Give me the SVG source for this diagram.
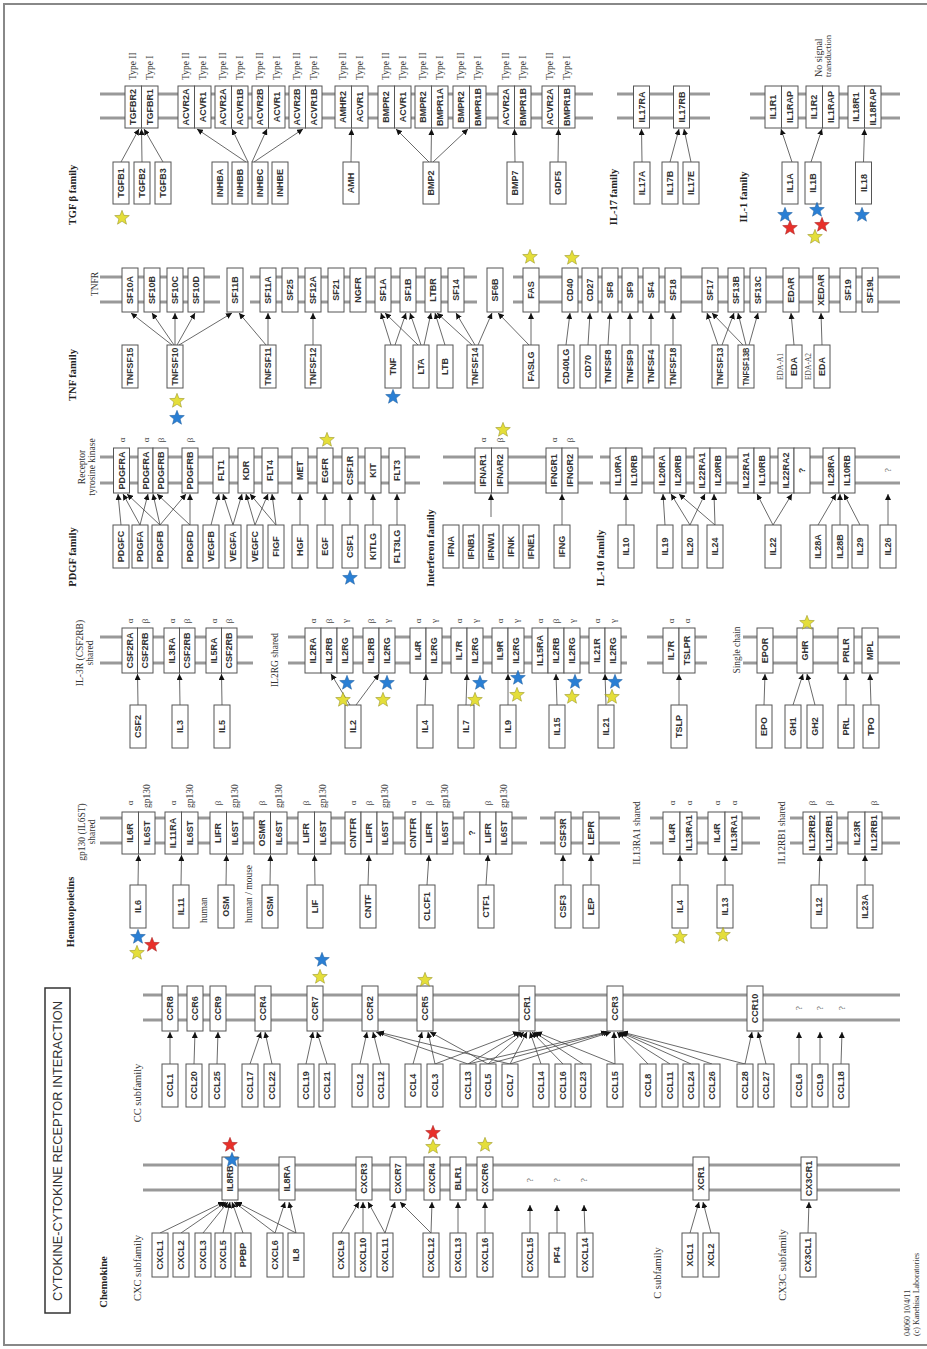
<svg xmlns="http://www.w3.org/2000/svg" xmlns:xlink="http://www.w3.org/1999/xlink" width="927" height="1349" viewBox="0 0 927 1349">
<defs>
<style>
.b{fill:#fff;stroke:#555;stroke-width:1}
.g{font-family:"Liberation Sans",Arial,sans-serif;font-size:9px;font-weight:bold;text-anchor:middle;dominant-baseline:central;fill:#333}
.m{stroke:#999;stroke-width:3;fill:none}
.c line{stroke:#444;stroke-width:0.8;marker-end:url(#ah)}
.f{font-family:"Liberation Serif","Times New Roman",serif;font-size:10.5px;font-weight:bold;text-anchor:middle;dominant-baseline:central;fill:#222}
.s{font-family:"Liberation Serif","Times New Roman",serif;font-size:9.5px;fill:#333;dominant-baseline:central}
.q{font-family:"Liberation Serif","Times New Roman",serif;font-size:9px;fill:#444;text-anchor:middle;dominant-baseline:central}
.y{fill:#e4de3a;stroke:#8f8a1c;stroke-width:0.5}
.bl{fill:#2a7fd4;stroke:#1a5a9a;stroke-width:0.5}
.r{fill:#e8302a;stroke:#a02020;stroke-width:0.5}
</style>
<marker id="ah" markerUnits="userSpaceOnUse" markerWidth="6" markerHeight="6" viewBox="0 0 10 10" refX="10" refY="5" orient="auto"><path d="M0,0L10,5L0,10z" fill="#111"/></marker>
<path id="st" d="M0,-7.7 L1.94,-2.67 L7.33,-2.38 L3.14,1.02 L4.52,6.23 L0,3.3 L-4.52,6.23 L-3.14,1.02 L-7.33,-2.38 L-1.94,-2.67 Z"/>
</defs>
<rect width="927" height="1349" fill="#fff"/>
<path d="M927,4 H4 V1345 H927" fill="none" stroke="#888" stroke-width="2"/>

<g id="title">
<rect x="45" y="988" width="25" height="325" fill="#fff" stroke="#333" stroke-width="1.5"/>
<text class="g" style="font-size:12px;font-weight:normal" textLength="300" lengthAdjust="spacingAndGlyphs" transform="translate(57.5,1151) rotate(-90)">CYTOKINE-CYTOKINE RECEPTOR INTERACTION</text>
</g>

<g id="membranes" class="m">
<path d="M100,94H593M100,118H593M617,94H710M617,118H710M750,94H900M750,118H900"/>
<path d="M100,277H220M100,302H220M250,277H477M250,302H477M513,277H900M513,302H900"/>
<path d="M100,457H420M100,483H420M443,457H593M443,483H593M600,457H900M600,483H900"/>
<path d="M100,637H253M100,663H253M288,637H627M288,663H627M647,637H707M647,663H707M743,637H900M743,663H900"/>
<path d="M100,818H527M100,843H527M540,818H620M540,843H620M650,818H760M650,843H760M790,818H900M790,843H900"/>
<path d="M143,995H900M143,1020H900"/>
<path d="M143,1165H900M143,1190H900"/>
</g>

<g id="connectors" class="c">
<line x1="121" y1="162" x2="139" y2="129"/><line x1="142" y1="162" x2="141.5" y2="129"/><line x1="163" y1="162" x2="144" y2="129"/>
<line x1="246" y1="162" x2="197" y2="129"/><line x1="248" y1="162" x2="232" y2="129"/><line x1="252" y1="162" x2="267" y2="129"/><line x1="254" y1="162" x2="303" y2="129"/>
<line x1="351" y1="162" x2="351.5" y2="129"/>
<line x1="429" y1="162" x2="396" y2="129"/><line x1="431" y1="162" x2="431.5" y2="129"/><line x1="433" y1="162" x2="468" y2="129"/>
<line x1="515" y1="162" x2="514.5" y2="129"/><line x1="558" y1="162" x2="558.5" y2="129"/>
<line x1="642" y1="162" x2="641.5" y2="129"/><line x1="670" y1="162" x2="679" y2="129"/><line x1="691" y1="162" x2="684" y2="129"/>
<line x1="792" y1="162" x2="781" y2="129"/><line x1="811" y1="162" x2="822" y2="129"/><line x1="863.5" y1="162" x2="864.5" y2="129"/>

<line x1="172" y1="345" x2="131" y2="313"/><line x1="174" y1="345" x2="152" y2="313"/><line x1="175" y1="345" x2="175" y2="313"/><line x1="177" y1="345" x2="195" y2="313"/><line x1="179" y1="345" x2="232" y2="313"/>
<line x1="266" y1="345" x2="239" y2="313"/><line x1="268" y1="345" x2="268" y2="313"/>
<line x1="313" y1="345" x2="313" y2="313"/>
<line x1="391" y1="345" x2="381" y2="313"/><line x1="395" y1="345" x2="406" y2="313"/>
<line x1="418" y1="345" x2="385" y2="313"/><line x1="421" y1="345" x2="410" y2="313"/><line x1="424" y1="345" x2="431" y2="313"/>
<line x1="445" y1="345" x2="435" y2="313"/>
<line x1="472" y1="345" x2="437" y2="313"/><line x1="475" y1="345" x2="456" y2="313"/><line x1="478" y1="345" x2="492" y2="313"/>
<line x1="529" y1="345" x2="498" y2="313"/><line x1="531" y1="345" x2="531" y2="313"/>
<line x1="566" y1="345" x2="570" y2="313"/><line x1="588" y1="345" x2="590" y2="313"/><line x1="608" y1="345" x2="610" y2="313"/><line x1="630" y1="345" x2="630" y2="313"/><line x1="651" y1="345" x2="651" y2="313"/><line x1="673" y1="345" x2="673" y2="313"/>
<line x1="718" y1="345" x2="707" y2="313"/><line x1="722" y1="345" x2="734" y2="313"/>
<line x1="743" y1="345" x2="712" y2="313"/><line x1="746" y1="345" x2="738" y2="313"/><line x1="749" y1="345" x2="758" y2="313"/>
<line x1="794" y1="345" x2="791" y2="313"/><line x1="822" y1="345" x2="821" y2="313"/>

<line x1="121" y1="525" x2="118" y2="494"/><line x1="140" y1="525" x2="123" y2="494"/><line x1="140" y1="525" x2="148" y2="494"/>
<line x1="160" y1="525" x2="127" y2="494"/><line x1="160" y1="525" x2="153" y2="494"/><line x1="160" y1="525" x2="186" y2="494"/>
<line x1="190" y1="525" x2="157" y2="494"/><line x1="190" y1="525" x2="190" y2="494"/>
<line x1="211" y1="525" x2="219" y2="494"/><line x1="233" y1="525" x2="223" y2="494"/><line x1="233" y1="525" x2="242" y2="494"/>
<line x1="255" y1="525" x2="246" y2="494"/><line x1="255" y1="525" x2="268" y2="494"/><line x1="276" y1="525" x2="250" y2="494"/><line x1="276" y1="525" x2="272" y2="494"/>
<line x1="300" y1="525" x2="300" y2="494"/><line x1="325" y1="525" x2="325" y2="494"/><line x1="350" y1="525" x2="350" y2="494"/><line x1="373" y1="525" x2="373" y2="494"/><line x1="397" y1="525" x2="397" y2="494"/>
<line x1="491" y1="517" x2="491" y2="494"/><line x1="562" y1="525" x2="562" y2="494"/>
<line x1="626" y1="525" x2="626" y2="494"/><line x1="665" y1="525" x2="663" y2="494"/><line x1="690" y1="525" x2="671" y2="494"/><line x1="690" y1="525" x2="705" y2="494"/>
<line x1="715" y1="525" x2="679" y2="494"/><line x1="715" y1="525" x2="714" y2="494"/>
<line x1="773" y1="525" x2="757" y2="494"/><line x1="773" y1="525" x2="792" y2="494"/>
<line x1="818" y1="525" x2="836" y2="494"/><line x1="840" y1="525" x2="840" y2="494"/><line x1="860" y1="525" x2="844" y2="494"/><line x1="888" y1="525" x2="888" y2="494"/>

<line x1="138" y1="705" x2="137.5" y2="674"/><line x1="180" y1="705" x2="179.5" y2="674"/><line x1="222" y1="705" x2="221.5" y2="674"/>
<line x1="350" y1="705" x2="331" y2="674"/><line x1="356" y1="705" x2="379" y2="674"/>
<line x1="425" y1="705" x2="426" y2="674"/><line x1="466" y1="705" x2="467" y2="674"/><line x1="508" y1="705" x2="508" y2="674"/><line x1="557" y1="705" x2="556" y2="674"/><line x1="606" y1="705" x2="605" y2="674"/>
<line x1="679" y1="705" x2="679" y2="674"/><line x1="764" y1="705" x2="765" y2="674"/><line x1="793" y1="705" x2="803" y2="674"/><line x1="815" y1="705" x2="807" y2="674"/><line x1="846" y1="705" x2="846" y2="674"/><line x1="871" y1="705" x2="870" y2="674"/>

<line x1="138" y1="885" x2="138.5" y2="855"/><line x1="181" y1="885" x2="181.5" y2="855"/><line x1="226" y1="885" x2="226.5" y2="855"/><line x1="270" y1="885" x2="270.5" y2="855"/><line x1="315" y1="885" x2="314.5" y2="855"/>
<line x1="368" y1="885" x2="369" y2="855"/><line x1="427" y1="885" x2="429" y2="855"/><line x1="486" y1="885" x2="488" y2="855"/><line x1="563" y1="885" x2="563" y2="855"/><line x1="591" y1="885" x2="591" y2="855"/>
<line x1="680" y1="885" x2="680" y2="855"/><line x1="725" y1="885" x2="725" y2="855"/><line x1="819" y1="885" x2="820" y2="855"/><line x1="865" y1="885" x2="865" y2="855"/>

<line x1="170" y1="1064" x2="170" y2="1032"/><line x1="194" y1="1064" x2="195" y2="1032"/><line x1="217" y1="1064" x2="218" y2="1032"/>
<line x1="250" y1="1064" x2="261" y2="1032"/><line x1="272" y1="1064" x2="265" y2="1032"/>
<line x1="306" y1="1064" x2="313" y2="1032"/><line x1="327" y1="1064" x2="317" y2="1032"/>
<line x1="360" y1="1064" x2="367" y2="1032"/><line x1="381" y1="1064" x2="373" y2="1032"/>
<line x1="413" y1="1064" x2="422" y2="1032"/><line x1="435" y1="1064" x2="428" y2="1032"/><line x1="435" y1="1064" x2="519" y2="1032"/>
<line x1="468" y1="1064" x2="376" y2="1032"/><line x1="468" y1="1064" x2="521" y2="1032"/><line x1="468" y1="1064" x2="607" y2="1032"/>
<line x1="488" y1="1064" x2="430" y2="1032"/><line x1="488" y1="1064" x2="524" y2="1032"/><line x1="488" y1="1064" x2="609" y2="1032"/>
<line x1="510" y1="1064" x2="378" y2="1032"/><line x1="510" y1="1064" x2="527" y2="1032"/><line x1="510" y1="1064" x2="611" y2="1032"/>
<line x1="541" y1="1064" x2="530" y2="1032"/><line x1="563" y1="1064" x2="532" y2="1032"/><line x1="583" y1="1064" x2="534" y2="1032"/>
<line x1="615" y1="1064" x2="536" y2="1032"/><line x1="615" y1="1064" x2="614" y2="1032"/>
<line x1="648" y1="1064" x2="617" y2="1032"/><line x1="670" y1="1064" x2="619" y2="1032"/><line x1="691" y1="1064" x2="620" y2="1032"/><line x1="712" y1="1064" x2="621" y2="1032"/>
<line x1="745" y1="1064" x2="622" y2="1032"/><line x1="745" y1="1064" x2="752" y2="1032"/><line x1="766" y1="1064" x2="758" y2="1032"/>
<line x1="799" y1="1064" x2="799" y2="1032"/><line x1="820" y1="1064" x2="820" y2="1032"/><line x1="841" y1="1064" x2="842" y2="1032"/>

<line x1="160" y1="1233" x2="224" y2="1202"/><line x1="181" y1="1233" x2="226" y2="1202"/><line x1="203" y1="1233" x2="228" y2="1202"/><line x1="223" y1="1233" x2="230" y2="1202"/><line x1="243" y1="1233" x2="232" y2="1202"/>
<line x1="275" y1="1233" x2="234" y2="1202"/><line x1="275" y1="1233" x2="285" y2="1202"/><line x1="296" y1="1233" x2="236" y2="1202"/><line x1="296" y1="1233" x2="289" y2="1202"/>
<line x1="341" y1="1233" x2="359" y2="1202"/><line x1="363" y1="1233" x2="363" y2="1202"/><line x1="385" y1="1233" x2="368" y2="1202"/><line x1="385" y1="1233" x2="395" y2="1202"/>
<line x1="431" y1="1233" x2="400" y2="1202"/><line x1="431" y1="1233" x2="432" y2="1202"/><line x1="458" y1="1233" x2="458" y2="1202"/><line x1="485" y1="1233" x2="485" y2="1202"/>
<line x1="530" y1="1233" x2="530" y2="1205"/><line x1="557" y1="1233" x2="557" y2="1205"/><line x1="585" y1="1233" x2="584" y2="1205"/>
<line x1="690" y1="1233" x2="699" y2="1202"/><line x1="711" y1="1233" x2="703" y2="1202"/><line x1="808" y1="1233" x2="809" y2="1202"/>
</g>

<g id="nodes">
<g id="TGFBR2_TGFBR1"><rect class="b" x="125" y="86" width="16.5" height="42"/><rect class="b" x="141.5" y="86" width="16.5" height="42"/><text class="g" transform="translate(133.3,107) rotate(-90)">TGFBR2</text><text class="g" transform="translate(149.8,107) rotate(-90)">TGFBR1</text></g>
<g id="ACVR2A_ACVR1"><rect class="b" x="178" y="86" width="16.5" height="42"/><rect class="b" x="194.5" y="86" width="16.5" height="42"/><text class="g" transform="translate(186.3,107) rotate(-90)">ACVR2A</text><text class="g" transform="translate(202.8,107) rotate(-90)">ACVR1</text></g>
<g id="ACVR2A_ACVR1B"><rect class="b" x="215" y="86" width="16.5" height="42"/><rect class="b" x="231.5" y="86" width="16.5" height="42"/><text class="g" transform="translate(223.3,107) rotate(-90)">ACVR2A</text><text class="g" transform="translate(239.8,107) rotate(-90)">ACVR1B</text></g>
<g id="ACVR2B_ACVR1"><rect class="b" x="252" y="86" width="16.5" height="42"/><rect class="b" x="268.5" y="86" width="16.5" height="42"/><text class="g" transform="translate(260.3,107) rotate(-90)">ACVR2B</text><text class="g" transform="translate(276.8,107) rotate(-90)">ACVR1</text></g>
<g id="ACVR2B_ACVR1B"><rect class="b" x="289" y="86" width="16.5" height="42"/><rect class="b" x="305.5" y="86" width="16.5" height="42"/><text class="g" transform="translate(297.3,107) rotate(-90)">ACVR2B</text><text class="g" transform="translate(313.8,107) rotate(-90)">ACVR1B</text></g>
<g id="AMHR2_ACVR1"><rect class="b" x="335" y="86" width="16.5" height="42"/><rect class="b" x="351.5" y="86" width="16.5" height="42"/><text class="g" transform="translate(343.3,107) rotate(-90)">AMHR2</text><text class="g" transform="translate(359.8,107) rotate(-90)">ACVR1</text></g>
<g id="BMPR2_ACVR1"><rect class="b" x="378" y="86" width="16.5" height="42"/><rect class="b" x="394.5" y="86" width="16.5" height="42"/><text class="g" transform="translate(386.3,107) rotate(-90)">BMPR2</text><text class="g" transform="translate(402.8,107) rotate(-90)">ACVR1</text></g>
<g id="BMPR2_BMPR1A"><rect class="b" x="415" y="86" width="16.5" height="42"/><rect class="b" x="431.5" y="86" width="16.5" height="42"/><text class="g" transform="translate(423.3,107) rotate(-90)">BMPR2</text><text class="g" transform="translate(439.8,107) rotate(-90)">BMPR1A</text></g>
<g id="BMPR2_BMPR1B"><rect class="b" x="453" y="86" width="16.5" height="42"/><rect class="b" x="469.5" y="86" width="16.5" height="42"/><text class="g" transform="translate(461.3,107) rotate(-90)">BMPR2</text><text class="g" transform="translate(477.8,107) rotate(-90)">BMPR1B</text></g>
<g id="ACVR2A_BMPR1B"><rect class="b" x="498" y="86" width="16.5" height="42"/><rect class="b" x="514.5" y="86" width="16.5" height="42"/><text class="g" transform="translate(506.3,107) rotate(-90)">ACVR2A</text><text class="g" transform="translate(522.8,107) rotate(-90)">BMPR1B</text></g>
<g id="ACVR2A_BMPR1B_b"><rect class="b" x="542" y="86" width="16.5" height="42"/><rect class="b" x="558.5" y="86" width="16.5" height="42"/><text class="g" transform="translate(550.3,107) rotate(-90)">ACVR2A</text><text class="g" transform="translate(566.8,107) rotate(-90)">BMPR1B</text></g>
<g id="IL17RA"><rect class="b" x="633.5" y="86" width="16" height="42"/><text class="g" transform="translate(641.5,107) rotate(-90)">IL17RA</text></g>
<g id="IL17RB"><rect class="b" x="673.5" y="86" width="16" height="42"/><text class="g" transform="translate(681.5,107) rotate(-90)">IL17RB</text></g>
<g id="IL1R1_IL1RAP"><rect class="b" x="765" y="86" width="16.5" height="42"/><rect class="b" x="781.5" y="86" width="16.5" height="42"/><text class="g" transform="translate(773.3,107) rotate(-90)">IL1R1</text><text class="g" transform="translate(789.8,107) rotate(-90)">IL1RAP</text></g>
<g id="IL1R2_IL1RAP"><rect class="b" x="806" y="86" width="16.5" height="42"/><rect class="b" x="822.5" y="86" width="16.5" height="42"/><text class="g" transform="translate(814.3,107) rotate(-90)">IL1R2</text><text class="g" transform="translate(830.8,107) rotate(-90)">IL1RAP</text></g>
<g id="IL18R1_IL18RAP"><rect class="b" x="848" y="86" width="16.5" height="42"/><rect class="b" x="864.5" y="86" width="16.5" height="42"/><text class="g" transform="translate(856.3,107) rotate(-90)">IL18R1</text><text class="g" transform="translate(872.8,107) rotate(-90)">IL18RAP</text></g>
<g id="TGFB1"><rect class="b" x="113" y="162" width="16" height="42"/><text class="g" transform="translate(121,183) rotate(-90)">TGFB1</text></g>
<g id="TGFB2"><rect class="b" x="134" y="162" width="16" height="42"/><text class="g" transform="translate(142,183) rotate(-90)">TGFB2</text></g>
<g id="TGFB3"><rect class="b" x="155" y="162" width="16" height="42"/><text class="g" transform="translate(163,183) rotate(-90)">TGFB3</text></g>
<g id="INHBA"><rect class="b" x="212" y="162" width="16" height="42"/><text class="g" transform="translate(220,183) rotate(-90)">INHBA</text></g>
<g id="INHBB"><rect class="b" x="232" y="162" width="16" height="42"/><text class="g" transform="translate(240,183) rotate(-90)">INHBB</text></g>
<g id="INHBC"><rect class="b" x="252" y="162" width="16" height="42"/><text class="g" transform="translate(260,183) rotate(-90)">INHBC</text></g>
<g id="INHBE"><rect class="b" x="272" y="162" width="16" height="42"/><text class="g" transform="translate(280,183) rotate(-90)">INHBE</text></g>
<g id="AMH"><rect class="b" x="343" y="162" width="16" height="42"/><text class="g" transform="translate(351,183) rotate(-90)">AMH</text></g>
<g id="BMP2"><rect class="b" x="423" y="162" width="16" height="42"/><text class="g" transform="translate(431,183) rotate(-90)">BMP2</text></g>
<g id="BMP7"><rect class="b" x="507" y="162" width="16" height="42"/><text class="g" transform="translate(515,183) rotate(-90)">BMP7</text></g>
<g id="GDF5"><rect class="b" x="550" y="162" width="16" height="42"/><text class="g" transform="translate(558,183) rotate(-90)">GDF5</text></g>
<g id="IL17A"><rect class="b" x="634" y="162" width="16" height="42"/><text class="g" transform="translate(642,183) rotate(-90)">IL17A</text></g>
<g id="IL17B"><rect class="b" x="662" y="162" width="16" height="42"/><text class="g" transform="translate(670,183) rotate(-90)">IL17B</text></g>
<g id="IL17E"><rect class="b" x="683" y="162" width="16" height="42"/><text class="g" transform="translate(691,183) rotate(-90)">IL17E</text></g>
<g id="IL1A"><rect class="b" x="782" y="162" width="16" height="42"/><text class="g" transform="translate(790,183) rotate(-90)">IL1A</text></g>
<g id="IL1B"><rect class="b" x="805" y="162" width="16" height="42"/><text class="g" transform="translate(813,183) rotate(-90)">IL1B</text></g>
<g id="IL18"><rect class="b" x="855.5" y="162" width="16" height="42"/><text class="g" transform="translate(863.5,183) rotate(-90)">IL18</text></g>

<g id="SF10A"><rect class="b" x="122" y="268" width="16" height="44"/><text class="g" transform="translate(130,290) rotate(-90)">SF10A</text></g>
<g id="SF10B"><rect class="b" x="144" y="268" width="16" height="44"/><text class="g" transform="translate(152,290) rotate(-90)">SF10B</text></g>
<g id="SF10C"><rect class="b" x="167" y="268" width="16" height="44"/><text class="g" transform="translate(175,290) rotate(-90)">SF10C</text></g>
<g id="SF10D"><rect class="b" x="188" y="268" width="16" height="44"/><text class="g" transform="translate(196,290) rotate(-90)">SF10D</text></g>
<g id="SF11B"><rect class="b" x="227" y="268" width="16" height="44"/><text class="g" transform="translate(235,290) rotate(-90)">SF11B</text></g>
<g id="SF11A"><rect class="b" x="260" y="268" width="16" height="44"/><text class="g" transform="translate(268,290) rotate(-90)">SF11A</text></g>
<g id="SF25"><rect class="b" x="282" y="268" width="16" height="44"/><text class="g" transform="translate(290,290) rotate(-90)">SF25</text></g>
<g id="SF12A"><rect class="b" x="305" y="268" width="16" height="44"/><text class="g" transform="translate(313,290) rotate(-90)">SF12A</text></g>
<g id="SF21"><rect class="b" x="328" y="268" width="16" height="44"/><text class="g" transform="translate(336,290) rotate(-90)">SF21</text></g>
<g id="NGFR"><rect class="b" x="350" y="268" width="16" height="44"/><text class="g" transform="translate(358,290) rotate(-90)">NGFR</text></g>
<g id="SF1A"><rect class="b" x="375" y="268" width="16" height="44"/><text class="g" transform="translate(383,290) rotate(-90)">SF1A</text></g>
<g id="SF1B"><rect class="b" x="400" y="268" width="16" height="44"/><text class="g" transform="translate(408,290) rotate(-90)">SF1B</text></g>
<g id="LTBR"><rect class="b" x="425" y="268" width="16" height="44"/><text class="g" transform="translate(433,290) rotate(-90)">LTBR</text></g>
<g id="SF14"><rect class="b" x="448" y="268" width="16" height="44"/><text class="g" transform="translate(456,290) rotate(-90)">SF14</text></g>
<g id="SF6B"><rect class="b" x="487" y="268" width="16" height="44"/><text class="g" transform="translate(495,290) rotate(-90)">SF6B</text></g>
<g id="FAS"><rect class="b" x="523" y="268" width="16" height="44"/><text class="g" transform="translate(531,290) rotate(-90)">FAS</text></g>
<g id="CD40"><rect class="b" x="562" y="268" width="16" height="44"/><text class="g" transform="translate(570,290) rotate(-90)">CD40</text></g>
<g id="CD27"><rect class="b" x="582" y="268" width="16" height="44"/><text class="g" transform="translate(590,290) rotate(-90)">CD27</text></g>
<g id="SF8"><rect class="b" x="602" y="268" width="16" height="44"/><text class="g" transform="translate(610,290) rotate(-90)">SF8</text></g>
<g id="SF9"><rect class="b" x="622" y="268" width="16" height="44"/><text class="g" transform="translate(630,290) rotate(-90)">SF9</text></g>
<g id="SF4"><rect class="b" x="643" y="268" width="16" height="44"/><text class="g" transform="translate(651,290) rotate(-90)">SF4</text></g>
<g id="SF18"><rect class="b" x="665" y="268" width="16" height="44"/><text class="g" transform="translate(673,290) rotate(-90)">SF18</text></g>
<g id="SF17"><rect class="b" x="702" y="268" width="16" height="44"/><text class="g" transform="translate(710,290) rotate(-90)">SF17</text></g>
<g id="SF13B"><rect class="b" x="728" y="268" width="16" height="44"/><text class="g" transform="translate(736,290) rotate(-90)">SF13B</text></g>
<g id="SF13C"><rect class="b" x="750" y="268" width="16" height="44"/><text class="g" transform="translate(758,290) rotate(-90)">SF13C</text></g>
<g id="EDAR"><rect class="b" x="783" y="268" width="16" height="44"/><text class="g" transform="translate(791,290) rotate(-90)">EDAR</text></g>
<g id="XEDAR"><rect class="b" x="813" y="268" width="16" height="44"/><text class="g" transform="translate(821,290) rotate(-90)">XEDAR</text></g>
<g id="SF19"><rect class="b" x="840" y="268" width="16" height="44"/><text class="g" transform="translate(848,290) rotate(-90)">SF19</text></g>
<g id="SF19L"><rect class="b" x="862" y="268" width="16" height="44"/><text class="g" transform="translate(870,290) rotate(-90)">SF19L</text></g>
<g id="TNFSF15"><rect class="b" x="122" y="345" width="16" height="43"/><text class="g" textLength="38" lengthAdjust="spacingAndGlyphs" transform="translate(130,366.5) rotate(-90)">TNFSF15</text></g>
<g id="TNFSF10"><rect class="b" x="167" y="345" width="16" height="43"/><text class="g" textLength="38" lengthAdjust="spacingAndGlyphs" transform="translate(175,366.5) rotate(-90)">TNFSF10</text></g>
<g id="TNFSF11"><rect class="b" x="260" y="345" width="16" height="43"/><text class="g" textLength="38" lengthAdjust="spacingAndGlyphs" transform="translate(268,366.5) rotate(-90)">TNFSF11</text></g>
<g id="TNFSF12"><rect class="b" x="305" y="345" width="16" height="43"/><text class="g" textLength="38" lengthAdjust="spacingAndGlyphs" transform="translate(313,366.5) rotate(-90)">TNFSF12</text></g>
<g id="TNF"><rect class="b" x="385" y="345" width="16" height="43"/><text class="g" transform="translate(393,366.5) rotate(-90)">TNF</text></g>
<g id="LTA"><rect class="b" x="413" y="345" width="16" height="43"/><text class="g" transform="translate(421,366.5) rotate(-90)">LTA</text></g>
<g id="LTB"><rect class="b" x="437" y="345" width="16" height="43"/><text class="g" transform="translate(445,366.5) rotate(-90)">LTB</text></g>
<g id="TNFSF14"><rect class="b" x="467" y="345" width="16" height="43"/><text class="g" textLength="38" lengthAdjust="spacingAndGlyphs" transform="translate(475,366.5) rotate(-90)">TNFSF14</text></g>
<g id="FASLG"><rect class="b" x="523" y="345" width="16" height="43"/><text class="g" transform="translate(531,366.5) rotate(-90)">FASLG</text></g>
<g id="CD40LG"><rect class="b" x="558" y="345" width="16" height="43"/><text class="g" transform="translate(566,366.5) rotate(-90)">CD40LG</text></g>
<g id="CD70"><rect class="b" x="580" y="345" width="16" height="43"/><text class="g" transform="translate(588,366.5) rotate(-90)">CD70</text></g>
<g id="TNFSF8"><rect class="b" x="600" y="345" width="16" height="43"/><text class="g" transform="translate(608,366.5) rotate(-90)">TNFSF8</text></g>
<g id="TNFSF9"><rect class="b" x="622" y="345" width="16" height="43"/><text class="g" transform="translate(630,366.5) rotate(-90)">TNFSF9</text></g>
<g id="TNFSF4"><rect class="b" x="643" y="345" width="16" height="43"/><text class="g" transform="translate(651,366.5) rotate(-90)">TNFSF4</text></g>
<g id="TNFSF18"><rect class="b" x="665" y="345" width="16" height="43"/><text class="g" textLength="38" lengthAdjust="spacingAndGlyphs" transform="translate(673,366.5) rotate(-90)">TNFSF18</text></g>
<g id="TNFSF13"><rect class="b" x="712" y="345" width="16" height="43"/><text class="g" textLength="38" lengthAdjust="spacingAndGlyphs" transform="translate(720,366.5) rotate(-90)">TNFSF13</text></g>
<g id="TNFSF13B"><rect class="b" x="738" y="345" width="16" height="43"/><text class="g" textLength="38" lengthAdjust="spacingAndGlyphs" transform="translate(746,366.5) rotate(-90)">TNFSF13B</text></g>
<g id="EDA_A1"><rect class="b" x="786" y="345" width="16" height="43"/><text class="g" transform="translate(794,366.5) rotate(-90)">EDA</text><text class="q" style="font-size:7.5px" transform="translate(780,366.5) rotate(-90)">EDA-A1</text></g>
<g id="EDA_A2"><rect class="b" x="814" y="345" width="16" height="43"/><text class="g" transform="translate(822,366.5) rotate(-90)">EDA</text><text class="q" style="font-size:7.5px" transform="translate(808.5,366.5) rotate(-90)">EDA-A2</text></g>

<g id="PDGFRA"><rect class="b" x="113.5" y="448" width="16" height="45"/><text class="g" transform="translate(121.5,470.5) rotate(-90)">PDGFRA</text></g>
<g id="PDGFRA_PDGFRB"><rect class="b" x="138" y="448" width="15" height="45"/><rect class="b" x="153" y="448" width="15" height="45"/><text class="g" transform="translate(145.5,470.5) rotate(-90)">PDGFRA</text><text class="g" transform="translate(160.5,470.5) rotate(-90)">PDGFRB</text></g>
<g id="PDGFRB"><rect class="b" x="182" y="448" width="16" height="45"/><text class="g" transform="translate(190,470.5) rotate(-90)">PDGFRB</text></g>
<g id="FLT1"><rect class="b" x="213" y="448" width="16" height="45"/><text class="g" transform="translate(221,470.5) rotate(-90)">FLT1</text></g>
<g id="KDR"><rect class="b" x="238" y="448" width="16" height="45"/><text class="g" transform="translate(246,470.5) rotate(-90)">KDR</text></g>
<g id="FLT4"><rect class="b" x="262" y="448" width="16" height="45"/><text class="g" transform="translate(270,470.5) rotate(-90)">FLT4</text></g>
<g id="MET"><rect class="b" x="292" y="448" width="16" height="45"/><text class="g" transform="translate(300,470.5) rotate(-90)">MET</text></g>
<g id="EGFR"><rect class="b" x="317" y="448" width="16" height="45"/><text class="g" transform="translate(325,470.5) rotate(-90)">EGFR</text></g>
<g id="CSF1R"><rect class="b" x="342" y="448" width="16" height="45"/><text class="g" transform="translate(350,470.5) rotate(-90)">CSF1R</text></g>
<g id="KIT"><rect class="b" x="365" y="448" width="16" height="45"/><text class="g" transform="translate(373,470.5) rotate(-90)">KIT</text></g>
<g id="FLT3"><rect class="b" x="389" y="448" width="16" height="45"/><text class="g" transform="translate(397,470.5) rotate(-90)">FLT3</text></g>
<g id="IFNAR1_IFNAR2"><rect class="b" x="475" y="448" width="16.5" height="45"/><rect class="b" x="491.5" y="448" width="16.5" height="45"/><text class="g" transform="translate(483.3,470.5) rotate(-90)">IFNAR1</text><text class="g" transform="translate(499.8,470.5) rotate(-90)">IFNAR2</text></g>
<g id="IFNGR1_IFNGR2"><rect class="b" x="546" y="448" width="16" height="45"/><rect class="b" x="562" y="448" width="16" height="45"/><text class="g" transform="translate(554,470.5) rotate(-90)">IFNGR1</text><text class="g" transform="translate(570,470.5) rotate(-90)">IFNGR2</text></g>
<g id="IL10RA_IL10RB"><rect class="b" x="610" y="448" width="16" height="45"/><rect class="b" x="626" y="448" width="16" height="45"/><text class="g" transform="translate(618,470.5) rotate(-90)">IL10RA</text><text class="g" transform="translate(634,470.5) rotate(-90)">IL10RB</text></g>
<g id="IL20RA_IL20RB"><rect class="b" x="654" y="448" width="16" height="45"/><rect class="b" x="670" y="448" width="16" height="45"/><text class="g" transform="translate(662,470.5) rotate(-90)">IL20RA</text><text class="g" transform="translate(678,470.5) rotate(-90)">IL20RB</text></g>
<g id="IL22RA1_IL20RB"><rect class="b" x="694" y="448" width="16" height="45"/><rect class="b" x="710" y="448" width="16" height="45"/><text class="g" transform="translate(702,470.5) rotate(-90)">IL22RA1</text><text class="g" transform="translate(718,470.5) rotate(-90)">IL20RB</text></g>
<g id="IL22RA1_IL10RB"><rect class="b" x="738" y="448" width="16" height="45"/><rect class="b" x="754" y="448" width="16" height="45"/><text class="g" transform="translate(746,470.5) rotate(-90)">IL22RA1</text><text class="g" transform="translate(762,470.5) rotate(-90)">IL10RB</text></g>
<g id="IL22RA2"><rect class="b" x="778" y="448" width="16" height="45"/><rect class="b" x="794" y="448" width="16" height="45"/><text class="g" transform="translate(786,470.5) rotate(-90)">IL22RA2</text><text class="g" transform="translate(802,470.5) rotate(-90)">?</text></g>
<g id="IL28RA_IL10RB"><rect class="b" x="823" y="448" width="16" height="45"/><rect class="b" x="839" y="448" width="16" height="45"/><text class="g" transform="translate(831,470.5) rotate(-90)">IL28RA</text><text class="g" transform="translate(847,470.5) rotate(-90)">IL10RB</text></g>
<g id="PDGFC"><rect class="b" x="113" y="525" width="16" height="43"/><text class="g" transform="translate(121,546.5) rotate(-90)">PDGFC</text></g>
<g id="PDGFA"><rect class="b" x="132" y="525" width="16" height="43"/><text class="g" transform="translate(140,546.5) rotate(-90)">PDGFA</text></g>
<g id="PDGFB"><rect class="b" x="152" y="525" width="16" height="43"/><text class="g" transform="translate(160,546.5) rotate(-90)">PDGFB</text></g>
<g id="PDGFD"><rect class="b" x="182" y="525" width="16" height="43"/><text class="g" transform="translate(190,546.5) rotate(-90)">PDGFD</text></g>
<g id="VEGFB"><rect class="b" x="203" y="525" width="16" height="43"/><text class="g" transform="translate(211,546.5) rotate(-90)">VEGFB</text></g>
<g id="VEGFA"><rect class="b" x="225" y="525" width="16" height="43"/><text class="g" transform="translate(233,546.5) rotate(-90)">VEGFA</text></g>
<g id="VEGFC"><rect class="b" x="247" y="525" width="16" height="43"/><text class="g" transform="translate(255,546.5) rotate(-90)">VEGFC</text></g>
<g id="FIGF"><rect class="b" x="268" y="525" width="16" height="43"/><text class="g" transform="translate(276,546.5) rotate(-90)">FIGF</text></g>
<g id="HGF"><rect class="b" x="292" y="525" width="16" height="43"/><text class="g" transform="translate(300,546.5) rotate(-90)">HGF</text></g>
<g id="EGF"><rect class="b" x="317" y="525" width="16" height="43"/><text class="g" transform="translate(325,546.5) rotate(-90)">EGF</text></g>
<g id="CSF1"><rect class="b" x="342" y="525" width="16" height="43"/><text class="g" transform="translate(350,546.5) rotate(-90)">CSF1</text></g>
<g id="KITLG"><rect class="b" x="365" y="525" width="16" height="43"/><text class="g" transform="translate(373,546.5) rotate(-90)">KITLG</text></g>
<g id="FLT3LG"><rect class="b" x="389" y="525" width="16" height="43"/><text class="g" transform="translate(397,546.5) rotate(-90)">FLT3LG</text></g>
<g id="IFNA"><rect class="b" x="443" y="525" width="16" height="43"/><text class="g" transform="translate(451,546.5) rotate(-90)">IFNA</text></g>
<g id="IFNB1"><rect class="b" x="463" y="525" width="16" height="43"/><text class="g" transform="translate(471,546.5) rotate(-90)">IFNB1</text></g>
<g id="IFNW1"><rect class="b" x="483" y="525" width="16" height="43"/><text class="g" transform="translate(491,546.5) rotate(-90)">IFNW1</text></g>
<g id="IFNK"><rect class="b" x="503" y="525" width="16" height="43"/><text class="g" transform="translate(511,546.5) rotate(-90)">IFNK</text></g>
<g id="IFNE1"><rect class="b" x="523" y="525" width="16" height="43"/><text class="g" transform="translate(531,546.5) rotate(-90)">IFNE1</text></g>
<g id="IFNG"><rect class="b" x="554" y="525" width="16" height="43"/><text class="g" transform="translate(562,546.5) rotate(-90)">IFNG</text></g>
<g id="IL10"><rect class="b" x="618" y="525" width="16" height="43"/><text class="g" transform="translate(626,546.5) rotate(-90)">IL10</text></g>
<g id="IL19"><rect class="b" x="657" y="525" width="16" height="43"/><text class="g" transform="translate(665,546.5) rotate(-90)">IL19</text></g>
<g id="IL20"><rect class="b" x="682" y="525" width="16" height="43"/><text class="g" transform="translate(690,546.5) rotate(-90)">IL20</text></g>
<g id="IL24"><rect class="b" x="707" y="525" width="16" height="43"/><text class="g" transform="translate(715,546.5) rotate(-90)">IL24</text></g>
<g id="IL22"><rect class="b" x="765" y="525" width="16" height="43"/><text class="g" transform="translate(773,546.5) rotate(-90)">IL22</text></g>
<g id="IL28A"><rect class="b" x="810" y="525" width="16" height="43"/><text class="g" transform="translate(818,546.5) rotate(-90)">IL28A</text></g>
<g id="IL28B"><rect class="b" x="832" y="525" width="16" height="43"/><text class="g" transform="translate(840,546.5) rotate(-90)">IL28B</text></g>
<g id="IL29"><rect class="b" x="852" y="525" width="16" height="43"/><text class="g" transform="translate(860,546.5) rotate(-90)">IL29</text></g>
<g id="IL26"><rect class="b" x="880" y="525" width="16" height="43"/><text class="g" transform="translate(888,546.5) rotate(-90)">IL26</text></g>

<g id="CSF2RA_CSF2RB"><rect class="b" x="122" y="628" width="15.5" height="45"/><rect class="b" x="137.5" y="628" width="15.5" height="45"/><text class="g" transform="translate(129.8,650.5) rotate(-90)">CSF2RA</text><text class="g" transform="translate(145.3,650.5) rotate(-90)">CSF2RB</text></g>
<g id="IL3RA_CSF2RB"><rect class="b" x="164" y="628" width="15.5" height="45"/><rect class="b" x="179.5" y="628" width="15.5" height="45"/><text class="g" transform="translate(171.8,650.5) rotate(-90)">IL3RA</text><text class="g" transform="translate(187.3,650.5) rotate(-90)">CSF2RB</text></g>
<g id="IL5RA_CSF2RB"><rect class="b" x="206" y="628" width="15.5" height="45"/><rect class="b" x="221.5" y="628" width="15.5" height="45"/><text class="g" transform="translate(213.8,650.5) rotate(-90)">IL5RA</text><text class="g" transform="translate(229.3,650.5) rotate(-90)">CSF2RB</text></g>
<g id="IL2RA_IL2RB_IL2RG"><rect class="b" x="305" y="628" width="16" height="45"/><rect class="b" x="321" y="628" width="16" height="45"/><rect class="b" x="337" y="628" width="16" height="45"/><text class="g" transform="translate(313,650.5) rotate(-90)">IL2RA</text><text class="g" transform="translate(329,650.5) rotate(-90)">IL2RB</text><text class="g" transform="translate(345,650.5) rotate(-90)">IL2RG</text></g>
<g id="IL2RB_IL2RG"><rect class="b" x="363" y="628" width="16" height="45"/><rect class="b" x="379" y="628" width="16" height="45"/><text class="g" transform="translate(371,650.5) rotate(-90)">IL2RB</text><text class="g" transform="translate(387,650.5) rotate(-90)">IL2RG</text></g>
<g id="IL4R_IL2RG"><rect class="b" x="410" y="628" width="16" height="45"/><rect class="b" x="426" y="628" width="16" height="45"/><text class="g" transform="translate(418,650.5) rotate(-90)">IL4R</text><text class="g" transform="translate(434,650.5) rotate(-90)">IL2RG</text></g>
<g id="IL7R_IL2RG"><rect class="b" x="451" y="628" width="16" height="45"/><rect class="b" x="467" y="628" width="16" height="45"/><text class="g" transform="translate(459,650.5) rotate(-90)">IL7R</text><text class="g" transform="translate(475,650.5) rotate(-90)">IL2RG</text></g>
<g id="IL9R_IL2RG"><rect class="b" x="492" y="628" width="16" height="45"/><rect class="b" x="508" y="628" width="16" height="45"/><text class="g" transform="translate(500,650.5) rotate(-90)">IL9R</text><text class="g" transform="translate(516,650.5) rotate(-90)">IL2RG</text></g>
<g id="IL15RA_IL2RB_IL2RG"><rect class="b" x="532" y="628" width="16" height="45"/><rect class="b" x="548" y="628" width="16" height="45"/><rect class="b" x="564" y="628" width="16" height="45"/><text class="g" transform="translate(540,650.5) rotate(-90)">IL15RA</text><text class="g" transform="translate(556,650.5) rotate(-90)">IL2RB</text><text class="g" transform="translate(572,650.5) rotate(-90)">IL2RG</text></g>
<g id="IL21R_IL2RG"><rect class="b" x="589" y="628" width="16" height="45"/><rect class="b" x="605" y="628" width="16" height="45"/><text class="g" transform="translate(597,650.5) rotate(-90)">IL21R</text><text class="g" transform="translate(613,650.5) rotate(-90)">IL2RG</text></g>
<g id="IL7R_TSLPR"><rect class="b" x="663" y="628" width="16" height="45"/><rect class="b" x="679" y="628" width="16" height="45"/><text class="g" transform="translate(671,650.5) rotate(-90)">IL7R</text><text class="g" transform="translate(687,650.5) rotate(-90)">TSLPR</text></g>
<g id="EPOR"><rect class="b" x="757" y="628" width="16" height="45"/><text class="g" transform="translate(765,650.5) rotate(-90)">EPOR</text></g>
<g id="GHR"><rect class="b" x="797" y="628" width="16" height="45"/><text class="g" transform="translate(805,650.5) rotate(-90)">GHR</text></g>
<g id="PRLR"><rect class="b" x="838" y="628" width="16" height="45"/><text class="g" transform="translate(846,650.5) rotate(-90)">PRLR</text></g>
<g id="MPL"><rect class="b" x="862" y="628" width="16" height="45"/><text class="g" transform="translate(870,650.5) rotate(-90)">MPL</text></g>
<g id="CSF2"><rect class="b" x="130" y="705" width="16" height="43"/><text class="g" transform="translate(138,726.5) rotate(-90)">CSF2</text></g>
<g id="IL3"><rect class="b" x="172" y="705" width="16" height="43"/><text class="g" transform="translate(180,726.5) rotate(-90)">IL3</text></g>
<g id="IL5"><rect class="b" x="214" y="705" width="16" height="43"/><text class="g" transform="translate(222,726.5) rotate(-90)">IL5</text></g>
<g id="IL2"><rect class="b" x="345" y="705" width="16" height="43"/><text class="g" transform="translate(353,726.5) rotate(-90)">IL2</text></g>
<g id="IL4a"><rect class="b" x="417" y="705" width="16" height="43"/><text class="g" transform="translate(425,726.5) rotate(-90)">IL4</text></g>
<g id="IL7"><rect class="b" x="458" y="705" width="16" height="43"/><text class="g" transform="translate(466,726.5) rotate(-90)">IL7</text></g>
<g id="IL9"><rect class="b" x="500" y="705" width="16" height="43"/><text class="g" transform="translate(508,726.5) rotate(-90)">IL9</text></g>
<g id="IL15"><rect class="b" x="549" y="705" width="16" height="43"/><text class="g" transform="translate(557,726.5) rotate(-90)">IL15</text></g>
<g id="IL21"><rect class="b" x="598" y="705" width="16" height="43"/><text class="g" transform="translate(606,726.5) rotate(-90)">IL21</text></g>
<g id="TSLP"><rect class="b" x="671" y="705" width="16" height="43"/><text class="g" transform="translate(679,726.5) rotate(-90)">TSLP</text></g>
<g id="EPO"><rect class="b" x="756" y="705" width="16" height="43"/><text class="g" transform="translate(764,726.5) rotate(-90)">EPO</text></g>
<g id="GH1"><rect class="b" x="785" y="705" width="16" height="43"/><text class="g" transform="translate(793,726.5) rotate(-90)">GH1</text></g>
<g id="GH2"><rect class="b" x="807" y="705" width="16" height="43"/><text class="g" transform="translate(815,726.5) rotate(-90)">GH2</text></g>
<g id="PRL"><rect class="b" x="838" y="705" width="16" height="43"/><text class="g" transform="translate(846,726.5) rotate(-90)">PRL</text></g>
<g id="TPO"><rect class="b" x="863" y="705" width="16" height="43"/><text class="g" transform="translate(871,726.5) rotate(-90)">TPO</text></g>

<g id="IL6R_IL6ST"><rect class="b" x="122" y="812" width="16.5" height="42"/><rect class="b" x="138.5" y="812" width="16.5" height="42"/><text class="g" transform="translate(130.3,833) rotate(-90)">IL6R</text><text class="g" transform="translate(146.8,833) rotate(-90)">IL6ST</text></g>
<g id="IL11RA_IL6ST"><rect class="b" x="165" y="812" width="16.5" height="42"/><rect class="b" x="181.5" y="812" width="16.5" height="42"/><text class="g" transform="translate(173.3,833) rotate(-90)">IL11RA</text><text class="g" transform="translate(189.8,833) rotate(-90)">IL6ST</text></g>
<g id="LIFR_IL6ST_a"><rect class="b" x="210" y="812" width="16.5" height="42"/><rect class="b" x="226.5" y="812" width="16.5" height="42"/><text class="g" transform="translate(218.3,833) rotate(-90)">LIFR</text><text class="g" transform="translate(234.8,833) rotate(-90)">IL6ST</text></g>
<g id="OSMR_IL6ST"><rect class="b" x="254" y="812" width="16.5" height="42"/><rect class="b" x="270.5" y="812" width="16.5" height="42"/><text class="g" transform="translate(262.3,833) rotate(-90)">OSMR</text><text class="g" transform="translate(278.8,833) rotate(-90)">IL6ST</text></g>
<g id="LIFR_IL6ST_b"><rect class="b" x="298" y="812" width="16.5" height="42"/><rect class="b" x="314.5" y="812" width="16.5" height="42"/><text class="g" transform="translate(306.3,833) rotate(-90)">LIFR</text><text class="g" transform="translate(322.8,833) rotate(-90)">IL6ST</text></g>
<g id="CNTFR_LIFR_IL6ST_a"><rect class="b" x="345" y="812" width="16" height="42"/><rect class="b" x="361" y="812" width="16" height="42"/><rect class="b" x="377" y="812" width="16" height="42"/><text class="g" transform="translate(353,833) rotate(-90)">CNTFR</text><text class="g" transform="translate(369,833) rotate(-90)">LIFR</text><text class="g" transform="translate(385,833) rotate(-90)">IL6ST</text></g>
<g id="CNTFR_LIFR_IL6ST_b"><rect class="b" x="405" y="812" width="16" height="42"/><rect class="b" x="421" y="812" width="16" height="42"/><rect class="b" x="437" y="812" width="16" height="42"/><text class="g" transform="translate(413,833) rotate(-90)">CNTFR</text><text class="g" transform="translate(429,833) rotate(-90)">LIFR</text><text class="g" transform="translate(445,833) rotate(-90)">IL6ST</text></g>
<g id="Q_LIFR_IL6ST"><rect class="b" x="464" y="812" width="16" height="42"/><rect class="b" x="480" y="812" width="16" height="42"/><rect class="b" x="496" y="812" width="16" height="42"/><text class="g" transform="translate(472,833) rotate(-90)">?</text><text class="g" transform="translate(488,833) rotate(-90)">LIFR</text><text class="g" transform="translate(504,833) rotate(-90)">IL6ST</text></g>
<g id="CSF3R"><rect class="b" x="555" y="812" width="16" height="42"/><text class="g" transform="translate(563,833) rotate(-90)">CSF3R</text></g>
<g id="LEPR"><rect class="b" x="583" y="812" width="16" height="42"/><text class="g" transform="translate(591,833) rotate(-90)">LEPR</text></g>
<g id="IL4R_IL13RA1_a"><rect class="b" x="663" y="812" width="17" height="42"/><rect class="b" x="680" y="812" width="17" height="42"/><text class="g" transform="translate(671.5,833) rotate(-90)">IL4R</text><text class="g" transform="translate(688.5,833) rotate(-90)">IL13RA1</text></g>
<g id="IL4R_IL13RA1_b"><rect class="b" x="708" y="812" width="17" height="42"/><rect class="b" x="725" y="812" width="17" height="42"/><text class="g" transform="translate(716.5,833) rotate(-90)">IL4R</text><text class="g" transform="translate(733.5,833) rotate(-90)">IL13RA1</text></g>
<g id="IL12RB2_IL12RB1"><rect class="b" x="803" y="812" width="17" height="42"/><rect class="b" x="820" y="812" width="17" height="42"/><text class="g" transform="translate(811.5,833) rotate(-90)">IL12RB2</text><text class="g" transform="translate(828.5,833) rotate(-90)">IL12RB1</text></g>
<g id="IL23R_IL12RB1"><rect class="b" x="848" y="812" width="17" height="42"/><rect class="b" x="865" y="812" width="17" height="42"/><text class="g" transform="translate(856.5,833) rotate(-90)">IL23R</text><text class="g" transform="translate(873.5,833) rotate(-90)">IL12RB1</text></g>
<g id="IL6"><rect class="b" x="130" y="885" width="16" height="43"/><text class="g" transform="translate(138,906.5) rotate(-90)">IL6</text></g>
<g id="IL11"><rect class="b" x="173" y="885" width="16" height="43"/><text class="g" transform="translate(181,906.5) rotate(-90)">IL11</text></g>
<g id="OSM_a"><rect class="b" x="218" y="885" width="16" height="43"/><text class="g" transform="translate(226,906.5) rotate(-90)">OSM</text></g>
<g id="OSM_b"><rect class="b" x="262" y="885" width="16" height="43"/><text class="g" transform="translate(270,906.5) rotate(-90)">OSM</text></g>
<g id="LIF"><rect class="b" x="307" y="885" width="16" height="43"/><text class="g" transform="translate(315,906.5) rotate(-90)">LIF</text></g>
<g id="CNTF"><rect class="b" x="360" y="885" width="16" height="43"/><text class="g" transform="translate(368,906.5) rotate(-90)">CNTF</text></g>
<g id="CLCF1"><rect class="b" x="419" y="885" width="16" height="43"/><text class="g" transform="translate(427,906.5) rotate(-90)">CLCF1</text></g>
<g id="CTF1"><rect class="b" x="478" y="885" width="16" height="43"/><text class="g" transform="translate(486,906.5) rotate(-90)">CTF1</text></g>
<g id="CSF3"><rect class="b" x="555" y="885" width="16" height="43"/><text class="g" transform="translate(563,906.5) rotate(-90)">CSF3</text></g>
<g id="LEP"><rect class="b" x="583" y="885" width="16" height="43"/><text class="g" transform="translate(591,906.5) rotate(-90)">LEP</text></g>
<g id="IL4b"><rect class="b" x="672" y="885" width="16" height="43"/><text class="g" transform="translate(680,906.5) rotate(-90)">IL4</text></g>
<g id="IL13"><rect class="b" x="717" y="885" width="16" height="43"/><text class="g" transform="translate(725,906.5) rotate(-90)">IL13</text></g>
<g id="IL12"><rect class="b" x="811" y="885" width="16" height="43"/><text class="g" transform="translate(819,906.5) rotate(-90)">IL12</text></g>
<g id="IL23A"><rect class="b" x="857" y="885" width="16" height="43"/><text class="g" transform="translate(865,906.5) rotate(-90)">IL23A</text></g>

<g id="CCR8"><rect class="b" x="162" y="986" width="16" height="45"/><text class="g" transform="translate(170,1008.5) rotate(-90)">CCR8</text></g>
<g id="CCR6"><rect class="b" x="187" y="986" width="16" height="45"/><text class="g" transform="translate(195,1008.5) rotate(-90)">CCR6</text></g>
<g id="CCR9"><rect class="b" x="210" y="986" width="16" height="45"/><text class="g" transform="translate(218,1008.5) rotate(-90)">CCR9</text></g>
<g id="CCR4"><rect class="b" x="255" y="986" width="16" height="45"/><text class="g" transform="translate(263,1008.5) rotate(-90)">CCR4</text></g>
<g id="CCR7"><rect class="b" x="307" y="986" width="16" height="45"/><text class="g" transform="translate(315,1008.5) rotate(-90)">CCR7</text></g>
<g id="CCR2"><rect class="b" x="362" y="986" width="16" height="45"/><text class="g" transform="translate(370,1008.5) rotate(-90)">CCR2</text></g>
<g id="CCR5"><rect class="b" x="417" y="986" width="16" height="45"/><text class="g" transform="translate(425,1008.5) rotate(-90)">CCR5</text></g>
<g id="CCR1"><rect class="b" x="519" y="986" width="16" height="45"/><text class="g" transform="translate(527,1008.5) rotate(-90)">CCR1</text></g>
<g id="CCR3"><rect class="b" x="607" y="986" width="16" height="45"/><text class="g" transform="translate(615,1008.5) rotate(-90)">CCR3</text></g>
<g id="CCR10"><rect class="b" x="747" y="986" width="16" height="45"/><text class="g" transform="translate(755,1008.5) rotate(-90)">CCR10</text></g>
<g id="CCL1"><rect class="b" x="162" y="1064" width="16" height="43"/><text class="g" transform="translate(170,1085.5) rotate(-90)">CCL1</text></g>
<g id="CCL20"><rect class="b" x="186" y="1064" width="16" height="43"/><text class="g" transform="translate(194,1085.5) rotate(-90)">CCL20</text></g>
<g id="CCL25"><rect class="b" x="209" y="1064" width="16" height="43"/><text class="g" transform="translate(217,1085.5) rotate(-90)">CCL25</text></g>
<g id="CCL17"><rect class="b" x="242" y="1064" width="16" height="43"/><text class="g" transform="translate(250,1085.5) rotate(-90)">CCL17</text></g>
<g id="CCL22"><rect class="b" x="264" y="1064" width="16" height="43"/><text class="g" transform="translate(272,1085.5) rotate(-90)">CCL22</text></g>
<g id="CCL19"><rect class="b" x="298" y="1064" width="16" height="43"/><text class="g" transform="translate(306,1085.5) rotate(-90)">CCL19</text></g>
<g id="CCL21"><rect class="b" x="319" y="1064" width="16" height="43"/><text class="g" transform="translate(327,1085.5) rotate(-90)">CCL21</text></g>
<g id="CCL2"><rect class="b" x="352" y="1064" width="16" height="43"/><text class="g" transform="translate(360,1085.5) rotate(-90)">CCL2</text></g>
<g id="CCL12"><rect class="b" x="373" y="1064" width="16" height="43"/><text class="g" transform="translate(381,1085.5) rotate(-90)">CCL12</text></g>
<g id="CCL4"><rect class="b" x="405" y="1064" width="16" height="43"/><text class="g" transform="translate(413,1085.5) rotate(-90)">CCL4</text></g>
<g id="CCL3"><rect class="b" x="427" y="1064" width="16" height="43"/><text class="g" transform="translate(435,1085.5) rotate(-90)">CCL3</text></g>
<g id="CCL13"><rect class="b" x="460" y="1064" width="16" height="43"/><text class="g" transform="translate(468,1085.5) rotate(-90)">CCL13</text></g>
<g id="CCL5"><rect class="b" x="480" y="1064" width="16" height="43"/><text class="g" transform="translate(488,1085.5) rotate(-90)">CCL5</text></g>
<g id="CCL7"><rect class="b" x="502" y="1064" width="16" height="43"/><text class="g" transform="translate(510,1085.5) rotate(-90)">CCL7</text></g>
<g id="CCL14"><rect class="b" x="533" y="1064" width="16" height="43"/><text class="g" transform="translate(541,1085.5) rotate(-90)">CCL14</text></g>
<g id="CCL16"><rect class="b" x="555" y="1064" width="16" height="43"/><text class="g" transform="translate(563,1085.5) rotate(-90)">CCL16</text></g>
<g id="CCL23"><rect class="b" x="575" y="1064" width="16" height="43"/><text class="g" transform="translate(583,1085.5) rotate(-90)">CCL23</text></g>
<g id="CCL15"><rect class="b" x="607" y="1064" width="16" height="43"/><text class="g" transform="translate(615,1085.5) rotate(-90)">CCL15</text></g>
<g id="CCL8"><rect class="b" x="640" y="1064" width="16" height="43"/><text class="g" transform="translate(648,1085.5) rotate(-90)">CCL8</text></g>
<g id="CCL11"><rect class="b" x="662" y="1064" width="16" height="43"/><text class="g" transform="translate(670,1085.5) rotate(-90)">CCL11</text></g>
<g id="CCL24"><rect class="b" x="683" y="1064" width="16" height="43"/><text class="g" transform="translate(691,1085.5) rotate(-90)">CCL24</text></g>
<g id="CCL26"><rect class="b" x="704" y="1064" width="16" height="43"/><text class="g" transform="translate(712,1085.5) rotate(-90)">CCL26</text></g>
<g id="CCL28"><rect class="b" x="737" y="1064" width="16" height="43"/><text class="g" transform="translate(745,1085.5) rotate(-90)">CCL28</text></g>
<g id="CCL27"><rect class="b" x="758" y="1064" width="16" height="43"/><text class="g" transform="translate(766,1085.5) rotate(-90)">CCL27</text></g>
<g id="CCL6"><rect class="b" x="791" y="1064" width="16" height="43"/><text class="g" transform="translate(799,1085.5) rotate(-90)">CCL6</text></g>
<g id="CCL9"><rect class="b" x="812" y="1064" width="16" height="43"/><text class="g" transform="translate(820,1085.5) rotate(-90)">CCL9</text></g>
<g id="CCL18"><rect class="b" x="833" y="1064" width="16" height="43"/><text class="g" transform="translate(841,1085.5) rotate(-90)">CCL18</text></g>

<g id="IL8RB"><rect class="b" x="222" y="1157" width="16" height="43"/><text class="g" transform="translate(230,1178.5) rotate(-90)">IL8RB</text></g>
<g id="IL8RA"><rect class="b" x="279" y="1157" width="16" height="43"/><text class="g" transform="translate(287,1178.5) rotate(-90)">IL8RA</text></g>
<g id="CXCR3"><rect class="b" x="356" y="1157" width="16" height="43"/><text class="g" transform="translate(364,1178.5) rotate(-90)">CXCR3</text></g>
<g id="CXCR7"><rect class="b" x="390" y="1157" width="16" height="43"/><text class="g" transform="translate(398,1178.5) rotate(-90)">CXCR7</text></g>
<g id="CXCR4"><rect class="b" x="424" y="1157" width="16" height="43"/><text class="g" transform="translate(432,1178.5) rotate(-90)">CXCR4</text></g>
<g id="BLR1"><rect class="b" x="450" y="1157" width="16" height="43"/><text class="g" transform="translate(458,1178.5) rotate(-90)">BLR1</text></g>
<g id="CXCR6"><rect class="b" x="477" y="1157" width="16" height="43"/><text class="g" transform="translate(485,1178.5) rotate(-90)">CXCR6</text></g>
<g id="XCR1"><rect class="b" x="693" y="1157" width="16" height="43"/><text class="g" transform="translate(701,1178.5) rotate(-90)">XCR1</text></g>
<g id="CX3CR1"><rect class="b" x="801" y="1157" width="16" height="43"/><text class="g" transform="translate(809,1178.5) rotate(-90)">CX3CR1</text></g>
<g id="CXCL1"><rect class="b" x="152" y="1233" width="16" height="44"/><text class="g" transform="translate(160,1255) rotate(-90)">CXCL1</text></g>
<g id="CXCL2"><rect class="b" x="173" y="1233" width="16" height="44"/><text class="g" transform="translate(181,1255) rotate(-90)">CXCL2</text></g>
<g id="CXCL3"><rect class="b" x="195" y="1233" width="16" height="44"/><text class="g" transform="translate(203,1255) rotate(-90)">CXCL3</text></g>
<g id="CXCL5"><rect class="b" x="215" y="1233" width="16" height="44"/><text class="g" transform="translate(223,1255) rotate(-90)">CXCL5</text></g>
<g id="PPBP"><rect class="b" x="235" y="1233" width="16" height="44"/><text class="g" transform="translate(243,1255) rotate(-90)">PPBP</text></g>
<g id="CXCL6"><rect class="b" x="267" y="1233" width="16" height="44"/><text class="g" transform="translate(275,1255) rotate(-90)">CXCL6</text></g>
<g id="IL8"><rect class="b" x="288" y="1233" width="16" height="44"/><text class="g" transform="translate(296,1255) rotate(-90)">IL8</text></g>
<g id="CXCL9"><rect class="b" x="333" y="1233" width="16" height="44"/><text class="g" transform="translate(341,1255) rotate(-90)">CXCL9</text></g>
<g id="CXCL10"><rect class="b" x="355" y="1233" width="16" height="44"/><text class="g" transform="translate(363,1255) rotate(-90)">CXCL10</text></g>
<g id="CXCL11"><rect class="b" x="377" y="1233" width="16" height="44"/><text class="g" transform="translate(385,1255) rotate(-90)">CXCL11</text></g>
<g id="CXCL12"><rect class="b" x="423" y="1233" width="16" height="44"/><text class="g" transform="translate(431,1255) rotate(-90)">CXCL12</text></g>
<g id="CXCL13"><rect class="b" x="450" y="1233" width="16" height="44"/><text class="g" transform="translate(458,1255) rotate(-90)">CXCL13</text></g>
<g id="CXCL16"><rect class="b" x="477" y="1233" width="16" height="44"/><text class="g" transform="translate(485,1255) rotate(-90)">CXCL16</text></g>
<g id="CXCL15"><rect class="b" x="522" y="1233" width="16" height="44"/><text class="g" transform="translate(530,1255) rotate(-90)">CXCL15</text></g>
<g id="PF4"><rect class="b" x="549" y="1233" width="16" height="44"/><text class="g" transform="translate(557,1255) rotate(-90)">PF4</text></g>
<g id="CXCL14"><rect class="b" x="577" y="1233" width="16" height="44"/><text class="g" transform="translate(585,1255) rotate(-90)">CXCL14</text></g>
<g id="XCL1"><rect class="b" x="682" y="1233" width="16" height="44"/><text class="g" transform="translate(690,1255) rotate(-90)">XCL1</text></g>
<g id="XCL2"><rect class="b" x="703" y="1233" width="16" height="44"/><text class="g" transform="translate(711,1255) rotate(-90)">XCL2</text></g>
<g id="CX3CL1"><rect class="b" x="800" y="1233" width="16" height="44"/><text class="g" transform="translate(808,1255) rotate(-90)">CX3CL1</text></g>
</g>

<g id="labels">
<text class="f" transform="translate(72,195) rotate(-90)">TGF β family</text>
<text class="f" transform="translate(613,197) rotate(-90)">IL-17 family</text>
<text class="f" transform="translate(743,197) rotate(-90)">IL-1 family</text>
<text class="s" style="font-size:10px" transform="translate(818,77) rotate(-90)">No signal</text>
<text class="s" style="font-size:8.5px" transform="translate(828,77) rotate(-90)">transduction</text>
<text class="f" transform="translate(72,375) rotate(-90)">TNF family</text>
<text class="s" style="text-anchor:middle" transform="translate(95,284) rotate(-90)">TNFR</text>
<text class="f" transform="translate(72,557) rotate(-90)">PDGF family</text>
<text class="s" style="text-anchor:middle" transform="translate(82,467) rotate(-90)">Receptor</text>
<text class="s" style="text-anchor:middle" transform="translate(92,467) rotate(-90)">tyrosine kinase</text>
<text class="f" transform="translate(430,548) rotate(-90)">Interferon family</text>
<text class="f" transform="translate(600,558) rotate(-90)">IL-10 family</text>
<text class="s" style="text-anchor:middle" transform="translate(80,653) rotate(-90)">IL-3R (CSF2RB)</text>
<text class="s" style="text-anchor:middle" transform="translate(90,653) rotate(-90)">shared</text>
<text class="s" style="text-anchor:middle" transform="translate(275,660) rotate(-90)">IL2RG shared</text>
<text class="s" style="text-anchor:middle" transform="translate(737,650) rotate(-90)">Single chain</text>
<text class="f" transform="translate(70,912) rotate(-90)">Hematopoietins</text>
<text class="s" style="text-anchor:middle" transform="translate(82,832) rotate(-90)">gp130 (IL6ST)</text>
<text class="s" style="text-anchor:middle" transform="translate(92,832) rotate(-90)">shared</text>
<text class="s" transform="translate(204,923) rotate(-90)">human</text>
<text class="s" transform="translate(249,923) rotate(-90)">human / mouse</text>
<text class="s" style="text-anchor:middle" transform="translate(637,833) rotate(-90)">IL13RA1 shared</text>
<text class="s" style="text-anchor:middle" transform="translate(782,833) rotate(-90)">IL12RB1 shared</text>
<text class="f" transform="translate(103,1282) rotate(-90)">Chemokine</text>
<text class="s" style="text-anchor:middle;font-size:10.5px" transform="translate(137,1093) rotate(-90)">CC subfamily</text>
<text class="s" style="text-anchor:middle;font-size:10.5px" transform="translate(137,1268) rotate(-90)">CXC subfamily</text>
<text class="s" style="text-anchor:middle;font-size:10.5px" transform="translate(657,1273) rotate(-90)">C subfamily</text>
<text class="s" style="text-anchor:middle;font-size:10.5px" transform="translate(782,1265) rotate(-90)">CX3C subfamily</text>
<text class="s" style="font-size:8px" transform="translate(907,1336) rotate(-90)">04060 10/4/11</text>
<text class="s" style="font-size:8px" transform="translate(916,1336) rotate(-90)">(c) Kanehisa Laboratories</text>
<g class="s">
<text transform="translate(133.3,80) rotate(-90)">Type II</text><text transform="translate(149.8,80) rotate(-90)">Type I</text>
<text transform="translate(186.3,80) rotate(-90)">Type II</text><text transform="translate(202.8,80) rotate(-90)">Type I</text>
<text transform="translate(223.3,80) rotate(-90)">Type II</text><text transform="translate(239.8,80) rotate(-90)">Type I</text>
<text transform="translate(260.3,80) rotate(-90)">Type II</text><text transform="translate(276.8,80) rotate(-90)">Type I</text>
<text transform="translate(297.3,80) rotate(-90)">Type II</text><text transform="translate(313.8,80) rotate(-90)">Type I</text>
<text transform="translate(343.3,80) rotate(-90)">Type II</text><text transform="translate(359.8,80) rotate(-90)">Type I</text>
<text transform="translate(386.3,80) rotate(-90)">Type II</text><text transform="translate(402.8,80) rotate(-90)">Type I</text>
<text transform="translate(423.3,80) rotate(-90)">Type II</text><text transform="translate(439.8,80) rotate(-90)">Type I</text>
<text transform="translate(461.3,80) rotate(-90)">Type II</text><text transform="translate(477.8,80) rotate(-90)">Type I</text>
<text transform="translate(506.3,80) rotate(-90)">Type II</text><text transform="translate(522.8,80) rotate(-90)">Type I</text>
<text transform="translate(550.3,80) rotate(-90)">Type II</text><text transform="translate(566.8,80) rotate(-90)">Type I</text>
</g>
<g class="q">
<text transform="translate(122,440) rotate(-90)">α</text><text transform="translate(146,440) rotate(-90)">α</text><text transform="translate(161,440) rotate(-90)">β</text><text transform="translate(190,440) rotate(-90)">β</text>
<text transform="translate(483,440) rotate(-90)">α</text><text transform="translate(500,440) rotate(-90)">β</text>
<text transform="translate(554,440) rotate(-90)">α</text><text transform="translate(570,440) rotate(-90)">β</text>
<text transform="translate(130,621) rotate(-90)">α</text><text transform="translate(145,621) rotate(-90)">β</text>
<text transform="translate(172,621) rotate(-90)">α</text><text transform="translate(187,621) rotate(-90)">β</text>
<text transform="translate(214,621) rotate(-90)">α</text><text transform="translate(229,621) rotate(-90)">β</text>
<text transform="translate(313,621) rotate(-90)">α</text><text transform="translate(329,621) rotate(-90)">β</text><text transform="translate(345,621) rotate(-90)">γ</text>
<text transform="translate(371,621) rotate(-90)">β</text><text transform="translate(387,621) rotate(-90)">γ</text>
<text transform="translate(418,621) rotate(-90)">α</text><text transform="translate(434,621) rotate(-90)">γ</text>
<text transform="translate(459,621) rotate(-90)">α</text><text transform="translate(475,621) rotate(-90)">γ</text>
<text transform="translate(500,621) rotate(-90)">α</text><text transform="translate(516,621) rotate(-90)">γ</text>
<text transform="translate(540,621) rotate(-90)">α</text><text transform="translate(556,621) rotate(-90)">β</text><text transform="translate(572,621) rotate(-90)">γ</text>
<text transform="translate(597,621) rotate(-90)">α</text><text transform="translate(613,621) rotate(-90)">γ</text>
<text transform="translate(671,621) rotate(-90)">α</text><text transform="translate(687,621) rotate(-90)">α</text>
<text transform="translate(130.3,803) rotate(-90)">α</text><text transform="translate(173.3,803) rotate(-90)">α</text><text transform="translate(218.3,803) rotate(-90)">β</text><text transform="translate(262.3,803) rotate(-90)">β</text><text transform="translate(306.3,803) rotate(-90)">β</text>
<text transform="translate(353,803) rotate(-90)">α</text><text transform="translate(369,803) rotate(-90)">β</text>
<text transform="translate(413,803) rotate(-90)">α</text><text transform="translate(429,803) rotate(-90)">β</text>
<text transform="translate(488,803) rotate(-90)">β</text>
<text transform="translate(671.5,803) rotate(-90)">α</text><text transform="translate(688.5,803) rotate(-90)">α</text>
<text transform="translate(716.5,803) rotate(-90)">α</text><text transform="translate(733.5,803) rotate(-90)">α</text>
<text transform="translate(811.5,803) rotate(-90)">β</text><text transform="translate(828.5,803) rotate(-90)">β</text><text transform="translate(873.5,803) rotate(-90)">β</text>
<text transform="translate(888,470) rotate(-90)">?</text>
<text transform="translate(799,1008) rotate(-90)">?</text><text transform="translate(820,1008) rotate(-90)">?</text><text transform="translate(842,1008) rotate(-90)">?</text>
<text transform="translate(530,1180) rotate(-90)">?</text><text transform="translate(557,1180) rotate(-90)">?</text><text transform="translate(584,1180) rotate(-90)">?</text>
</g>
<g class="s">
<text transform="translate(146.8,808) rotate(-90)">gp130</text><text transform="translate(189.8,808) rotate(-90)">gp130</text><text transform="translate(234.8,808) rotate(-90)">gp130</text><text transform="translate(278.8,808) rotate(-90)">gp130</text><text transform="translate(322.8,808) rotate(-90)">gp130</text><text transform="translate(385,808) rotate(-90)">gp130</text><text transform="translate(445,808) rotate(-90)">gp130</text><text transform="translate(504,808) rotate(-90)">gp130</text>
</g>
</g>

<g id="stars">
<use href="#st" x="122" y="218" class="y"/>
<use href="#st" x="785" y="215" class="bl"/><use href="#st" x="790" y="228" class="r"/>
<use href="#st" x="817" y="210" class="bl"/><use href="#st" x="822" y="225" class="r"/><use href="#st" x="815" y="237" class="y"/>
<use href="#st" x="862" y="215" class="bl"/>
<use href="#st" x="177" y="401" class="y"/><use href="#st" x="177" y="418" class="bl"/>
<use href="#st" x="393" y="397" class="bl"/>
<use href="#st" x="530" y="257" class="y"/><use href="#st" x="572" y="258" class="y"/>
<use href="#st" x="327" y="440" class="y"/><use href="#st" x="350" y="578" class="bl"/><use href="#st" x="503" y="430" class="y"/>
<use href="#st" x="347" y="683" class="bl"/><use href="#st" x="343" y="700" class="y"/>
<use href="#st" x="387" y="683" class="bl"/><use href="#st" x="383" y="700" class="y"/>
<use href="#st" x="480" y="683" class="bl"/><use href="#st" x="475" y="700" class="y"/>
<use href="#st" x="518" y="678" class="bl"/><use href="#st" x="517" y="695" class="y"/>
<use href="#st" x="575" y="682" class="bl"/><use href="#st" x="572" y="697" class="y"/>
<use href="#st" x="615" y="682" class="bl"/><use href="#st" x="612" y="697" class="y"/>
<use href="#st" x="807" y="623" class="y"/>
<use href="#st" x="138" y="937" class="bl"/><use href="#st" x="152" y="945" class="r"/><use href="#st" x="137" y="953" class="y"/>
<use href="#st" x="680" y="937" class="y"/><use href="#st" x="723" y="935" class="y"/>
<use href="#st" x="322" y="960" class="bl"/><use href="#st" x="320" y="977" class="y"/><use href="#st" x="425" y="980" class="y"/>
<use href="#st" x="230" y="1145" class="r"/><use href="#st" x="232" y="1160" class="bl"/>
<use href="#st" x="433" y="1133" class="r"/><use href="#st" x="433" y="1147" class="y"/>
<use href="#st" x="485" y="1145" class="y"/>
</g>
</svg>
